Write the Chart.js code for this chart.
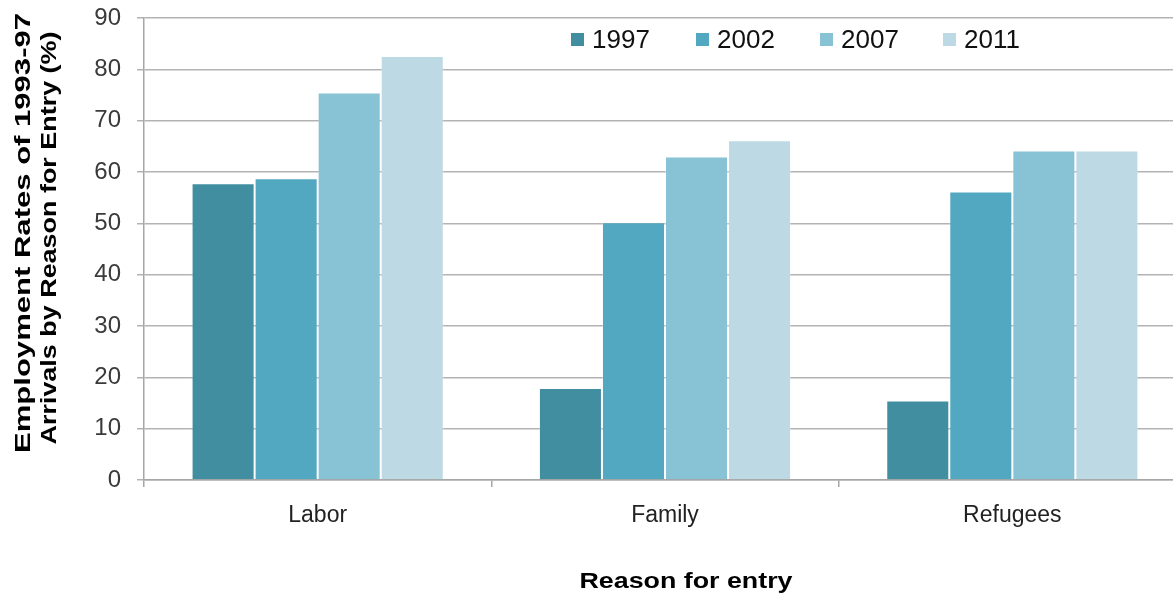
<!DOCTYPE html>
<html>
<head>
<meta charset="utf-8">
<script src="https://cdn.jsdelivr.net/npm/chart.js@4"></script>
<style>
  html, body { margin: 0; padding: 0; background: #fff; overflow: hidden; }
  #wrap { width: 1173px; height: 596px; overflow: hidden; position: relative; }
  canvas { display: block; }
</style>
</head>
<body>
<div id="wrap"><canvas id="c" width="1186" height="596"></canvas></div>
<script>
const categories = ["Labor", "Family", "Refugees"];
const seriesNames = ["1997", "2002", "2007", "2011"];
const values1997 = [57.8, 17.9, 15.5];
const values2002 = [58.8, 50.2, 56.2];
const values2007 = [75.5, 63.0, 64.2];
const values2011 = [82.6, 66.2, 64.2];
const yTitle = ["Employment Rates of 1993-97", "Arrivals by Reason for Entry (%)"];
const xTitle = "Reason for entry";

const colors = ["#428EA1", "#51A8C0", "#88C2D5", "#BDD9E3"];
const allValues = [values1997, values2002, values2007, values2011];

const FONT = "'Liberation Sans', Arial, sans-serif";

const legendPlugin = {
  id: 'insideLegend',
  afterDraw(chart) {
    const ctx = chart.ctx;
    const xs = [571, 696, 820, 943];
    const yc = 40;
    ctx.save();
    ctx.font = "26px " + FONT;
    ctx.textBaseline = "middle";
    ctx.textAlign = "left";
    chart.data.datasets.forEach((ds, i) => {
      ctx.fillStyle = ds.backgroundColor;
      ctx.fillRect(xs[i], yc - 7, 13, 13);
      ctx.fillStyle = "#111";
      ctx.fillText(ds.label, xs[i] + 21, yc + 1);
    });
    ctx.restore();
  }
};

const titlesPlugin = {
  id: 'axisTitles',
  afterDraw(chart) {
    const ctx = chart.ctx;
    ctx.save();
    ctx.font = "bold 22px " + FONT;
    ctx.fillStyle = "#000";
    ctx.textAlign = "center";
    ctx.textBaseline = "alphabetic";
    // x axis title
    const w = ctx.measureText(xTitle).width;
    ctx.save();
    ctx.translate(686, 588);
    ctx.scale(213 / w, 1);
    ctx.fillText(xTitle, 0, 0);
    ctx.restore();
    // y axis title (rotated, two lines)
    const lengths = [440, 413];
    const baselines = [30, 56];
    const centers = [233, 238];
    yTitle.forEach((line, i) => {
      const lw = ctx.measureText(line).width;
      ctx.save();
      ctx.translate(baselines[i], centers[i]);
      ctx.rotate(-Math.PI / 2);
      ctx.scale(lengths[i] / lw, 1);
      ctx.fillText(line, 0, 0);
      ctx.restore();
    });
    ctx.restore();
  }
};

new Chart(document.getElementById('c'), {
  type: 'bar',
  data: {
    labels: categories,
    datasets: seriesNames.map((name, i) => ({
      label: name,
      data: allValues[i],
      backgroundColor: colors[i],
      borderColor: 'rgba(255,255,255,0.25)',
      borderWidth: 1,
      categoryPercentage: 0.726,
      barPercentage: 1.0
    }))
  },
  options: {
    responsive: false,
    animation: false,
    devicePixelRatio: 1,
    layout: { padding: { top: 18, left: 0, right: 0, bottom: 0 } },
    plugins: {
      legend: { display: false },
      tooltip: { enabled: false }
    },
    scales: {
      x: {
        offset: true,
        grid: {
          offset: true,
          drawOnChartArea: false,
          drawTicks: true,
          tickLength: 7,
          color: '#A6A6A6',
          lineWidth: 1.5
        },
        border: { display: true, color: '#A6A6A6', width: 1.5 },
        ticks: {
          font: { family: FONT, size: 23 },
          color: '#222',
          padding: 15
        },
        afterFit(scale) {
          scale.height = 116;
          scale.paddingLeft = 0;
          scale.paddingRight = 0;
        }
      },
      y: {
        min: 0,
        max: 90,
        ticks: {
          stepSize: 10,
          font: { family: FONT, size: 24 },
          color: '#3a3a3a',
          padding: 16
        },
        grid: {
          color: '#B3B3B3',
          lineWidth: 1.5,
          tickLength: 7
        },
        border: { display: true, color: '#A6A6A6', width: 1.5 },
        title: { display: false },
        afterFit(scale) {
          scale.width = 144;
          scale.paddingTop = 0;
          scale.paddingBottom = 0;
        }
      }
    }
  },
  plugins: [legendPlugin, titlesPlugin]
});
</script>
</body>
</html>
